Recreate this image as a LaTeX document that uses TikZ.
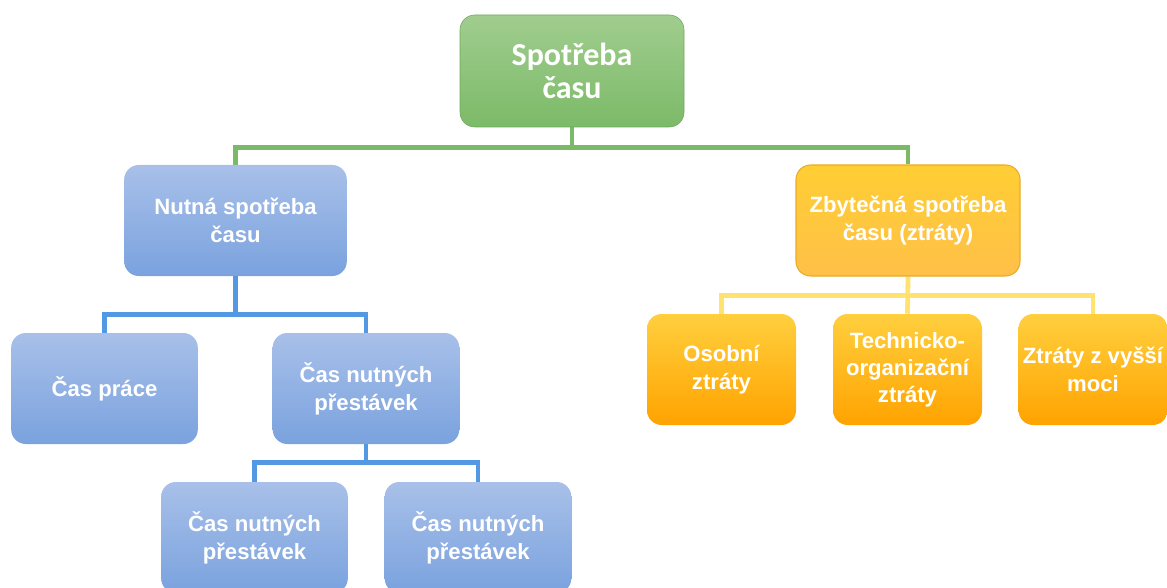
\documentclass[tikz,border=0pt]{standalone}
\usepackage{fontspec}
\setmainfont{Liberation Sans}
\newfontfamily\rootfont{Carlito}
\usetikzlibrary{backgrounds}
\definecolor{gtop}{RGB}{160,205,142}
\definecolor{gbot}{RGB}{124,186,104}
\definecolor{btop}{RGB}{168,192,233}
\definecolor{bbot}{RGB}{122,162,222}
\definecolor{otop}{RGB}{255,207,62}
\definecolor{obot}{RGB}{255,163,0}
\definecolor{ztop}{RGB}{255,206,52}
\definecolor{zbot}{RGB}{255,192,72}
\definecolor{zbord}{RGB}{232,172,40}
\definecolor{gline}{RGB}{122,186,102}
\definecolor{bline}{RGB}{82,152,226}
\definecolor{yline}{RGB}{255,226,112}
\begin{document}
\begin{tikzpicture}[x=0.75pt,y=-0.75pt,
  box/.style={rounded corners=11pt, inner sep=0pt, align=center, text=white,
    font=\fontsize{16.6}{21}\selectfont\bfseries},
  greenbox/.style={box, top color=gtop, bottom color=gbot, draw=gbot!90!black, line width=0.4pt,
    minimum width=168pt, minimum height=84pt, font=\rootfont\fontsize{24}{25}\selectfont\bfseries},
  bluebox/.style={box, top color=btop, bottom color=bbot},
  orangebox/.style={box, top color=otop, bottom color=obot, minimum width=111.75pt, minimum height=83.25pt},
  zbox/.style={box, top color=ztop, bottom color=zbot, draw=zbord, line width=0.8pt,
    minimum width=168pt, minimum height=83.25pt},
  conn/.style={line width=3.6pt},
  gconn/.style={conn, draw=gline},
  bconn/.style={conn, draw=bline},
  yconn/.style={conn, draw=yline},
]
\useasboundingbox (0,0) rectangle (1167,588);
\clip (0,0) rectangle (1167,588);
% nodes
\node[greenbox] (root) at (572,71) {Spotřeba\\času};
\node[bluebox, minimum width=167pt, minimum height=83.25pt] (nutna) at (235.5,220.5) {Nutná spotřeba\\času};
\node[zbox] (zbyt) at (908,220.5) {Zbytečná spotřeba\\času (ztráty)};
\node[bluebox, minimum width=140pt, minimum height=83.25pt] (prace) at (104.5,388.5) {Čas práce};
\node[bluebox, minimum width=140pt, minimum height=83.25pt] (nutne) at (366,388.5) {Čas nutných\\přestávek};
\node[bluebox, minimum width=140pt, minimum height=83.25pt] (b1) at (254.5,537.5) {Čas nutných\\přestávek};
\node[bluebox, minimum width=140pt, minimum height=83.25pt] (b2) at (478,537.5) {Čas nutných\\přestávek};
\node[orangebox] (osob) at (721.5,369.5) {Osobní\\ztráty};
\node[orangebox, font=\fontsize{16.6}{20.25}\selectfont\bfseries] (tech) at (907.5,369.5) {Technicko-\\organizační\\ztráty};
\node[orangebox] (moc) at (1093,369.5) {Ztráty z vyšší\\moci};
% connectors
\begin{scope}[on background layer]
\draw[gconn] (root.south) -- ++(0,20) -| (nutna.north);
\draw[gconn] (root.south) -- ++(0,20) -| (zbyt.north);
\draw[bconn] (nutna.south) -- ++(0,38) -| (prace.north);
\draw[bconn] (nutna.south) -- ++(0,38) -| (nutne.north);
\draw[bconn] (nutne.south) -- ++(0,18) -| (b1.north);
\draw[bconn] (nutne.south) -- ++(0,18) -| (b2.north);
\draw[yconn] (zbyt.south) -- ++(0,19) -| (osob.north);
\draw[yconn] (zbyt.south) -- ++(0,19) -| (moc.north);
\draw[yconn] (zbyt.south) -- (tech.north);
\end{scope}
\end{tikzpicture}
\end{document}
